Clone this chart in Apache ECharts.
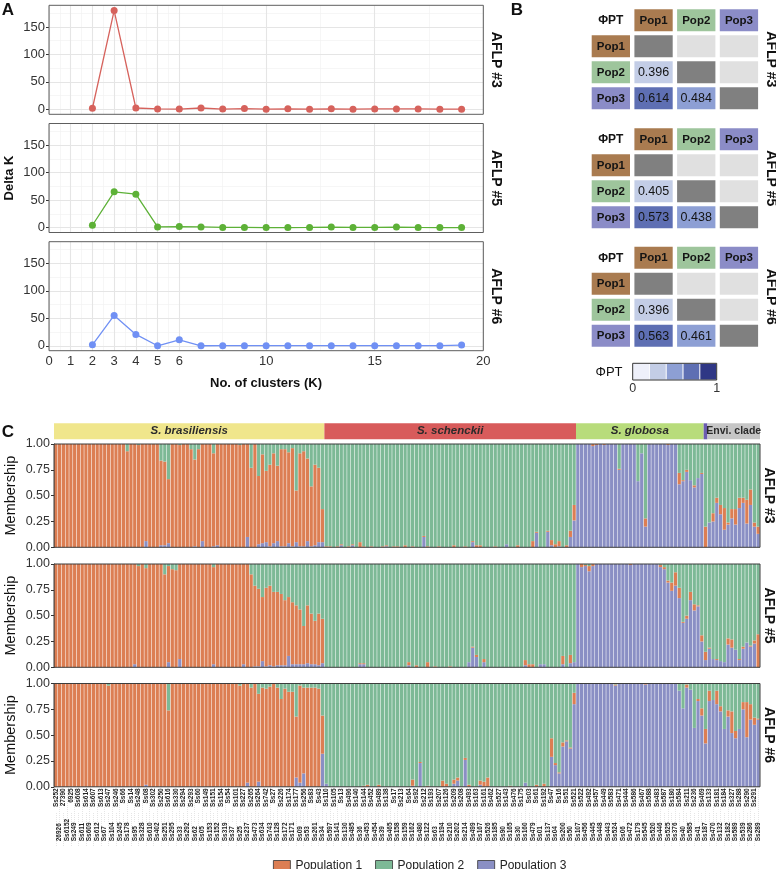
<!DOCTYPE html>
<html><head><meta charset="utf-8">
<script src="https://cdn.jsdelivr.net/npm/echarts@6/dist/echarts.min.js"></script>
<style>html,body{margin:0;padding:0;background:#fff}#c{width:776px;height:869px}</style>
</head><body><div id="c"></div>
<script>
// ---------------- DATA ----------------
const K = [2,3,4,5,6,7,8,9,10,11,12,13,14,15,16,17,18,19];
const deltaK_AFLP3 = [2,180,2.5,0.8,0.5,2.5,0.5,1.5,0.3,1,0.3,1,0.3,0.8,0.7,0.8,0.3,0.3];
const deltaK_AFLP5 = [4.2,65,60.7,1.2,1.8,1.2,0.2,0.2,0,0,0.3,0.8,0.3,0.3,0.8,0.2,0,0];
const deltaK_AFLP6 = [1.8,55.3,20.6,0,10.9,0,0.2,0.2,0.1,0.1,0.1,0.1,0.1,0.1,0.1,0.1,0.1,1.2];
const xMajorBreaks = [0,1,2,3,4,5,6,10,15,20];
const xMinorBreaks = [0.5,1.5,2.5,3.5,4.5,5.5,8,12.5,17.5];
const yMajorBreaks = [0,50,100,150];
const yMinorBreaks = [25,75,125,175];
const aflpNames = ['AFLP #3','AFLP #5','AFLP #6'];

const popLabels = ['Pop1','Pop2','Pop3'];
// lower triangle: [Pop2-Pop1, Pop3-Pop1, Pop3-Pop2]
const phiPT_AFLP3 = [0.396, 0.614, 0.484];
const phiPT_AFLP5 = [0.405, 0.573, 0.438];
const phiPT_AFLP6 = [0.396, 0.563, 0.461];
const phiLegendBins = [0.1, 0.3, 0.5, 0.7, 0.9];

const speciesNames = ['S. brasiliensis','S. schenckii','S. globosa','','Envi. clade'];
const speciesCounts = [72, 67, 34, 1, 14];

const labelsTop = ['Ss252','27390','6925','Ss608','Ss614','Ss607','Ss613','Ss247','Ss246','Ss66','Ss14','Ss248','Ss08','Ss302','Ss250','Ss616','Ss330','Ss294','Ss293','Ss60','Ss149','Ss151','Ss154','Ss54','Ss101','Ss227','Ss265','Ss264','Ss742','Ss27','Ss226','Ss174','Ss177','Ss256','Ss83','Ss43','Ss110','Ss105','Ss13','Ss496','Ss140','Ss144','Ss452','Ss489','Ss138','Ss17','Ss213','Ss64','Ss92','Ss212','Ss193','Ss207','Ss126','Ss209','Ss208','Ss493','Ss163','Ss161','Ss462','Ss527','Ss143','Ss476','Ss175','Ss03','Ss61','Ss192','Ss47','Ss16','Ss51','Ss521','Ss522','Ss492','Ss457','Ss449','Ss583','Ss471','Ss444','Ss586','Ss467','Ss588','Ss483','Ss587','Ss180','Ss584','Ss211','Ss236','Ss469','Ss133','Ss181','Ss184','Ss327','Ss288','Ss290','Ss291'];
const labelsBottom = ['26926','Ss6152','Ss249','Ss611','Ss609','Ss612','Ss67','Ss104','Ss245','Ss178','Ss95','Ss328','Ss610','Ss402','Ss251','Ss295','Ss33','Ss292','Ss62','Ss05','Ss153','Ss152','Ss319','Ss37','Ss25','Ss237','Ss473','Ss634','Ss743','Ss128','Ss172','Ss171','Ss09','Ss53','Ss261','Ss34','Ss597','Ss141','Ss130','Ss485','Ss36','Ss453','Ss454','Ss39','Ss465','Ss158','Ss159','Ss162','Ss480','Ss122','Ss63','Ss194','Ss210','Ss202','Ss214','Ss499','Ss167','Ss526','Ss185','Ss90','Ss165','Ss30','Ss160','Ss479','Ss01','Ss137','Ss04','Ss200','Ss50','Ss107','Ss456','Ss445','Ss448','Ss443','Ss524','Ss06','Ss472','Ss179','Ss545','Ss520','Ss446','Ss525','Ss376','Ss40','Ss585','Ss41','Ss187','Ss470','Ss132','Ss182','Ss589','Ss539','Ss286','Ss289'];

// AFLP #3 membership
const m3_pop1 = [1,1,1,1,1,1,1,1,1,1, 1,1,1,1,1,1,1,1,1,.93, 1,1,.99,1,.94,1,1,1,.82,.81, .62,1,1,.99,1,1,.95,.84,.95,.94, 1,1,.90,.98,1,1,1,1,1,.99, 1,.90,.77,1,.66,.86,.69,.79,.87,.73, .94,.94,.88,.95,.50,.90,.92,.80,.58,.78, .72,.32,.01,.01,0,.01,.01,0,.01,.01, 0,.05,.01,0,.01,0,0,.01,.01,0, .01,.01,0,.02,0,.01,0,0,.01,.01, 0,0,.01,0,0,0,.02,0,0,.01, 0,.01,.02,.02,0,0,0,.01,0,0, 0,0,0,.02,0,0,0,.06,.01,0, 0,.01,.05,.03,.05,0,.02,.06,.15,0, 0,0,0,.02,.01,0,.01,0,0,0, .01,0,0,0,0,0,0,.08,0,0, 0,0,0,.01,0,0,.11,.01,.02,0, .02,0,.01,.20,0,.08,.05,.09,.21,.02, .09,.15,.10,.05,.23,.15,.04,.07];
const m3_pop2 = [0,0,0,0,0,0,0,0,0,0, 0,0,0,0,0,0,0,0,0,.07, 0,0,.01,0,0,0,0,0,.16,.17, .34,0,0,.01,0,0,.05,.15,.05,0, 0,0,.09,0,0,0,0,0,0,.01, 0,0,.23,0,.31,.10,.26,.20,.09,.21, .05,.05,.08,.04,.45,.09,.07,.14,.41,.20, .23,.63,.99,.99,1,.99,.97,1,.99,.97, 1,.95,.99,1,.99,1,1,.99,.98,1, .99,.99,1,.98,1,.99,1,1,.89,.99, 1,1,.99,1,1,1,.98,1,1,.99, 1,.94,.98,.98,1,1,1,.99,1,1, .97,1,1,.98,1,1,1,.94,.85,1, 1,.84,.93,.97,.94,1,.98,.84,.59,0, 0,0,0,0,0,0,0,0,0,0, .24,0,0,0,0,.36,.09,.72,0,0, 0,0,0,0,0,0,.28,.35,.25,.35, .40,.33,.28,.80,.76,.67,.52,.59,.62,.76, .63,.63,.52,.52,.54,.44,.76,.80];
const m3_pop3 = [0,0,0,0,0,0,0,0,0,0, 0,0,0,0,0,0,0,0,0,0, 0,0,0,0,.06,0,0,0,.02,.02, .04,0,0,0,0,0,0,.01,0,.06, 0,0,.01,.02,0,0,0,0,0,0, 0,.10,0,0,.03,.04,.05,.01,.04,.06, .01,.01,.04,.01,.05,.01,.01,.06,.01,.02, .05,.05,0,0,0,0,.02,0,0,.02, 0,0,0,0,0,0,0,0,.01,0, 0,0,0,0,0,0,0,0,.10,0, 0,0,0,0,0,0,0,0,0,0, 0,.05,0,0,0,0,0,0,0,0, .03,0,0,0,0,0,0,0,.14,0, 0,.15,.02,0,.01,0,0,.10,.26,1, 1,1,1,.98,.99,1,.99,1,1,1, .75,1,1,1,1,.64,.91,.20,1,1, 1,1,1,.99,1,1,.61,.64,.73,.65, .58,.67,.71,0,.24,.25,.43,.32,.17,.22, .28,.22,.38,.43,.23,.41,.20,.13];

// AFLP #5 membership
const m5_pop1 = [1,1,1,1,1,1,1,1,1,1, 1,1,1,1,1,1,1,1,1,1, 1,.97,.98,1,.96,1,1,1,1,.90, .93,.95,.94,.92,1,1,1,1,1,1, 1,1,.94,1,1,1,1,1,1,1, .97,1,.90,.78,.75,.62,.76,.77,.72,.71, .69,.63,.57,.60,.57,.53,.37,.56,.49,.42, .50,.43,0,0,0,0,0,0,0,0, 0,.01,.01,0,0,0,0,0,0,0, 0,0,0,0,.03,0,.02,0,0,.05, 0,.01,0,0,0,.01,0,0,0,0, 0,.01,.02,0,.03,0,0,0,0,0, 0,0,0,0,0,.05,.03,.03,0,0, 0,0,0,0,0,.08,0,.08,0,0, .03,.01,.05,.02,0,0,0,0,0,0, 0,0,0,.01,0,0,0,0,0,0, 0,.02,.02,.02,.08,.13,.10,.01,.03,.08, .06,.01,.06,.08,.01,0,.01,0,0,.06, .08,0,.01,.02,0,.01,.03,.32];
const m5_pop2 = [0,0,0,0,0,0,0,0,0,0, 0,0,0,0,0,0,0,0,0,0, 0,0,.02,0,.04,0,0,0,0,.10, .02,.05,.06,0,0,0,0,0,0,0, 0,0,.03,0,0,0,0,0,0,0, 0,0,.10,.21,.24,.32,.23,.21,.27,.27, .29,.35,.32,.37,.40,.44,.60,.40,.48,.55, .48,.53,1,1,1,1,1,1,1,1, 1,.96,.96,1,1,1,1,1,1,1, 1,1,1,1,.95,1,.98,1,1,.95, 1,.99,1,1,1,.99,1,1,1,1, .95,.80,.88,1,.92,1,1,1,1,1, 1,1,1,1,1,.93,.97,.97,1,.97, .97,1,1,1,1,.89,1,.88,.95,0, 0,.01,.02,0,0,0,0,0,0,0, 0,0,0,0,0,0,0,0,0,0, 0,.01,.03,.16,.18,.08,.23,.56,.50,.27, .39,.40,.69,.85,.81,.92,.92,.94,.95,.72, .73,.83,.92,.80,.76,.79,.74,.68];
const m5_pop3 = [0,0,0,0,0,0,0,0,0,0, 0,0,0,0,0,0,0,0,0,0, 0,.03,0,0,0,0,0,0,0,0, .05,0,0,.08,0,0,0,0,0,0, 0,0,.03,0,0,0,0,0,0,0, .03,0,0,.01,.01,.06,.01,.02,.01,.02, .02,.02,.11,.03,.03,.03,.03,.04,.03,.03, .02,.04,0,0,0,0,0,0,0,0, 0,.03,.03,0,0,0,0,0,0,0, 0,0,0,0,.02,0,0,0,0,0, 0,0,0,0,0,0,0,0,0,0, .05,.19,.10,0,.05,0,0,0,0,0, 0,0,0,0,0,.02,0,0,0,.03, .03,0,0,0,0,.03,0,.04,.05,1, .97,.98,.93,.98,1,1,1,1,1,1, 1,1,1,.99,1,1,1,1,1,1, 1,.97,.95,.82,.74,.79,.67,.43,.47,.65, .55,.59,.25,.07,.18,.08,.07,.06,.05,.22, .19,.17,.07,.18,.24,.20,.23,0];

// AFLP #6 membership
const m6_pop1 = [1,1,1,1,1,1,1,1,1,1, 1,1,1,1,.98,1,1,1,1,1, 1,1,1,1,.98,1,1,1,1,1, .74,1,1,1,1,1,1,1,1,1, 1,1,1,1,1,1,1,1,1,.98, 1,.96,.96,1,.85,.96,.95,.97,1,.96, .85,.95,.92,.92,.59,.94,.83,.96,.96,.96, .95,.37,0,0,0,0,0,0,0,0, 0,0,.01,.02,0,0,.02,0,0,0, 0,0,0,0,0,.06,0,.01,0,.01, 0,0,0,.06,.03,0,.04,.03,0,.02, .02,0,0,.04,.05,.09,0,0,0,0, 0,.01,0,0,0,0,0,0,.02,0, .03,0,.18,.02,.01,.04,.01,.01,.11,0, 0,0,0,0,0,0,0,0,0,.01, 0,0,0,0,0,0,0,.01,0,0, 0,0,0,0,0,0,0,0,.03,0, 0,.02,.07,.14,.10,0,.13,.05,0,.06, .21,.07,0,.07,.34,.15,.07,.01];
const m6_pop2 = [0,0,0,0,0,0,0,0,0,0, 0,0,0,0,.02,0,0,0,0,0, 0,0,0,0,0,0,0,0,0,0, .26,0,0,0,0,0,0,0,0,0, 0,0,0,0,0,0,0,0,0,.02, 0,0,.04,0,.10,.04,.05,.03,0,.04, .15,.05,.08,.08,.32,.02,.04,.04,.04,.04, .05,.31,.97,1,1,1,1,1,1,1, 1,1,.99,.98,1,1,.98,1,1,1, 1,1,1,1,1,.93,1,.76,1,.99, 1,1,1,.94,.97,1,.93,.91,1,.72, .98,1,1,.94,.95,.91,1,1,1,1, 1,.99,1,1,1,.96,1,1,.98,1, .97,1,.53,.77,.86,.57,.55,.62,.09,0, 0,0,0,0,0,0,0,0,0,.01, 0,0,0,0,0,0,0,0,0,0, 0,0,0,0,0,0,.07,.24,.01,.06, .43,.15,.24,.44,.07,.16,.07,.22,.44,.26, .27,.46,.44,.18,.18,.20,.33,.34];
const m6_pop3 = [0,0,0,0,0,0,0,0,0,0, 0,0,0,0,0,0,0,0,0,0, 0,0,0,0,.02,0,0,0,0,0, 0,0,0,0,0,0,0,0,0,0, 0,0,0,0,0,0,0,0,0,0, 0,.04,0,0,.05,0,0,0,0,0, 0,0,0,0,.09,.04,.13,0,0,0, 0,.32,.03,0,0,0,0,0,0,0, 0,0,0,0,0,0,0,0,0,0, 0,0,0,0,0,.01,0,.23,0,0, 0,0,0,0,0,0,.03,.06,0,.26, 0,0,0,.02,0,0,0,0,0,0, 0,0,0,0,0,.04,0,0,0,0, 0,0,.29,.21,.13,.39,.44,.37,.80,1, 1,1,1,1,1,1,1,1,1,.98, 1,1,1,1,1,1,1,.99,1,1, 1,1,1,1,1,1,.93,.76,.96,.94, .57,.83,.69,.42,.83,.84,.80,.73,.56,.68, .52,.47,.56,.75,.48,.65,.60,.65];

// ---------------- STYLE / LAYOUT ----------------
const FONT = '"Liberation Sans", Arial, Helvetica, sans-serif';
const dkColors = ['#d6625c', '#5db137', '#7090f4'];
const popColors = ['#a97b50', '#9ec59c', '#8b8cc7'];
const structColors = ['#dc7e53', '#7db996', '#8a8fc4'];
const speciesColors = ['#f0e68c', '#d85b5b', '#b8dc7b', '#6b5cb0', '#c6c6c6'];
const phiPalette = ['#eef0fa', '#c3cde6', '#8d9fd4', '#5e6fb3', '#2f3785'];
function phiColor(v){ if (v < 0.2) return phiPalette[0]; if (v < 0.42) return phiPalette[1]; if (v < 0.52) return phiPalette[2]; if (v < 0.8) return phiPalette[3]; return phiPalette[4]; }

const sampleIds = [];
for (let i = 0; i < labelsTop.length; i++){ sampleIds.push(labelsTop[i]); if (i < labelsBottom.length) sampleIds.push(labelsBottom[i]); }

const grids = [], xAxes = [], yAxes = [], series = [], graphics = [];
const baseGrid = {show:false, containLabel:false, outerBoundsMode:'none'};

// ---------- Panel A ----------
const aTops = [5.3, 123.5, 241.7];
const dkSets = [deltaK_AFLP3, deltaK_AFLP5, deltaK_AFLP6];
for (let p = 0; p < 3; p++){
  const gi = grids.length;
  grids.push(Object.assign({}, baseGrid, {left:49, top:aTops[p], width:434.3, height:109, show:true, borderColor:'#5e5e5e', borderWidth:1, backgroundColor:'rgba(0,0,0,0)', z:4}));
  xAxes.push({gridIndex:gi, type:'value', min:0, max:20, splitLine:{show:false}, axisLine:{show:false},
    axisTick:{show:p===2, customValues:xMajorBreaks, length:3, lineStyle:{color:'#333'}},
    axisLabel:{show:p===2, customValues:xMajorBreaks, fontSize:13, color:'#333', margin:4, fontFamily:FONT}});
  yAxes.push({gridIndex:gi, type:'value', min:-9, max:189.5, splitLine:{show:false}, axisLine:{show:false},
    axisTick:{show:true, customValues:yMajorBreaks, length:3, lineStyle:{color:'#333'}},
    axisLabel:{customValues:yMajorBreaks, fontSize:13, color:'#333', margin:4, fontFamily:FONT}});
  const gl = [];
  xMinorBreaks.forEach(v => gl.push({xAxis:v, lineStyle:{color:'#f2f2f2', width:0.7, type:'solid'}}));
  yMinorBreaks.forEach(v => gl.push({yAxis:v, lineStyle:{color:'#f2f2f2', width:0.7, type:'solid'}}));
  xMajorBreaks.forEach(v => gl.push({xAxis:v, lineStyle:{color:'#e5e5e5', width:1.1, type:'solid'}}));
  yMajorBreaks.forEach(v => gl.push({yAxis:v, lineStyle:{color:'#e5e5e5', width:1.1, type:'solid'}}));
  series.push({type:'line', name:'grid'+p, xAxisIndex:gi, yAxisIndex:gi, data:[], silent:true, z:1,
    markLine:{silent:true, symbol:['none','none'], z:1, animation:false, label:{show:false}, emphasis:{disabled:true}, data:gl}});
  series.push({type:'line', name:aflpNames[p]+' dK', xAxisIndex:gi, yAxisIndex:gi, z:3,
    data:K.map((k,i)=>[k, dkSets[p][i]]), symbol:'circle', symbolSize:7, showSymbol:true,
    lineStyle:{color:dkColors[p], width:1.3}, itemStyle:{color:dkColors[p]}, emphasis:{disabled:true}});
}

// ---------- Panel B ----------
const bTops = [7.3, 126.3, 244.7];
const phiSets = [phiPT_AFLP3, phiPT_AFLP5, phiPT_AFLP6];
function buildCells(vals){
  const cells = [{col:0,row:0,kind:'corner',text:'ΦPT'}];
  popLabels.forEach((n,i)=>{ cells.push({col:i+1,row:0,kind:'pop',text:n,pop:i}); cells.push({col:0,row:i+1,kind:'pop',text:n,pop:i}); });
  let k = 0;
  for (let r=0;r<3;r++) for (let c=0;c<3;c++){
    if (r===c) cells.push({col:c+1,row:r+1,kind:'diag'});
    else if (c>r) cells.push({col:c+1,row:r+1,kind:'upper'});
    else { cells.push({col:c+1,row:r+1,kind:'val',value:vals[k]}); k++; }
  }
  return cells;
}
for (let t = 0; t < 3; t++){
  const gi = grids.length;
  grids.push(Object.assign({}, baseGrid, {left:589.5, top:bTops[t], width:170.8, height:104}));
  xAxes.push({gridIndex:gi, type:'category', data:['a','b','c','d'], show:false});
  yAxes.push({gridIndex:gi, type:'category', data:['a','b','c','d'], inverse:true, show:false});
  const cells = buildCells(phiSets[t]);
  series.push({type:'custom', name:'phi'+t, xAxisIndex:gi, yAxisIndex:gi, silent:true,
    data:cells.map(c=>[c.col,c.row]),
    renderItem:(params, api)=>{
      const cell = cells[params.dataIndex];
      const ctr = api.coord([api.value(0), api.value(1)]);
      const sz = api.size([1,1]);
      const w = sz[0]-4.4, h = sz[1]-4;
      const x = ctr[0]-w/2, y = ctr[1]-h/2;
      let fill = null, text = '', font = '12.5px ' + FONT;
      if (cell.kind==='corner'){ text = cell.text; font = 'bold 12px ' + FONT; }
      else if (cell.kind==='pop'){ fill = popColors[cell.pop]; text = cell.text; font = 'bold 11.5px ' + FONT; }
      else if (cell.kind==='diag'){ fill = '#808080'; }
      else if (cell.kind==='upper'){ fill = '#e0e0e0'; }
      else { fill = phiColor(cell.value); text = cell.value.toFixed(3); }
      const ch = [];
      if (fill) ch.push({type:'rect', shape:{x:x,y:y,width:w,height:h}, style:{fill:fill}});
      if (text) ch.push({type:'text', x:ctr[0], y:ctr[1]+0.5, style:{text:text, fill:'#141414', font:font, align:'center', verticalAlign:'middle'}});
      return {type:'group', children:ch};
    }});
}
// PhiPT colour legend
{
  const gi = grids.length;
  grids.push(Object.assign({}, baseGrid, {left:632.7, top:363.3, width:84, height:16.7, show:true, borderColor:'#333', borderWidth:1, backgroundColor:'rgba(0,0,0,0)', z:6}));
  xAxes.push({gridIndex:gi, type:'value', min:0, max:1, splitLine:{show:false}, axisLine:{show:false}, axisTick:{show:false},
    axisLabel:{customValues:[0,1], fontSize:12.5, color:'#333', margin:2, fontFamily:FONT}});
  yAxes.push({gridIndex:gi, type:'category', data:['x'], show:false});
  series.push({type:'custom', name:'phiLegend', xAxisIndex:gi, yAxisIndex:gi, silent:true,
    data:phiLegendBins.map(v=>[v,0]),
    renderItem:(params, api)=>{
      const v = api.value(0);
      const a = api.coord([v-0.1, 0]), b = api.coord([v+0.1, 0]);
      const h = api.size([0,1])[1];
      return {type:'rect', shape:{x:a[0], y:a[1]-h/2, width:b[0]-a[0], height:h}, style:{fill:phiColor(v), stroke:'#fff', lineWidth:0.8}};
    }});
}

// ---------- Panel C ----------
const cLeft = 54, cRight = 16;
// species header
{
  const gi = grids.length;
  grids.push(Object.assign({}, baseGrid, {left:cLeft, right:cRight, top:423.3, height:16}));
  xAxes.push({gridIndex:gi, type:'value', min:0, max:speciesCounts.reduce((a,b)=>a+b,0), show:false});
  yAxes.push({gridIndex:gi, type:'category', data:['sp'], show:false});
  speciesNames.forEach((n,i)=>{
    series.push({type:'bar', name:'sp'+i, xAxisIndex:gi, yAxisIndex:gi, stack:'species', barWidth:'100%', silent:true,
      data:[speciesCounts[i]], itemStyle:{color:speciesColors[i]},
      label:{show:n!=='', position:'inside', formatter:n, color:'#2b2b2b', fontFamily:FONT, fontWeight:'bold',
        fontStyle: i<3 ? 'italic' : 'normal', fontSize: i<3 ? 11.5 : 10.5}});
  });
}
const cTops = [444, 564, 683.5];
const memberSets = [[m3_pop1,m3_pop2,m3_pop3],[m5_pop1,m5_pop2,m5_pop3],[m6_pop1,m6_pop2,m6_pop3]];
const DOTS = '·················';
for (let p = 0; p < 3; p++){
  const gi = grids.length;
  grids.push(Object.assign({}, baseGrid, {left:cLeft, right:cRight, top:cTops[p], height:103.3, show:true, borderColor:'#3c3c3c', borderWidth:1, backgroundColor:'rgba(0,0,0,0)', z:6}));
  const last = p===2;
  xAxes.push({gridIndex:gi, type:'category', data:sampleIds, axisLine:{show:false}, axisTick:{show:false}, splitLine:{show:false},
    axisLabel:{show:last, interval:0, rotate:90, margin:1.5, hideOverlap:false, fontFamily:FONT,
      formatter:(v,i)=> i%2===0 ? '{d|'+DOTS+'}{t|'+v+'}' : '{b|'+v+'}{d|'+DOTS+'}',
      rich:{
        t:{fontSize:6.5, fontWeight:'bold', color:'#222', width:24, align:'right', fontFamily:FONT},
        b:{fontSize:6.5, fontWeight:'bold', color:'#222', width:24, align:'left', fontFamily:FONT},
        d:{fontSize:6, color:'#b0b0b0', width:29, fontFamily:FONT}
      }}});
  yAxes.push({gridIndex:gi, type:'value', min:0, max:1, interval:0.25, splitLine:{show:false},
    axisLine:{show:true, lineStyle:{color:'#3c3c3c'}}, axisTick:{show:true, length:3, lineStyle:{color:'#333'}},
    axisLabel:{formatter:v=>v.toFixed(2), fontSize:12.5, color:'#333', margin:4, fontFamily:FONT}});
  const sets = memberSets[p];
  // stacking order bottom->top: Population 3, Population 1, Population 2
  [[2,'Population 3'],[0,'Population 1'],[1,'Population 2']].forEach(([k,name])=>{
    series.push({type:'bar', name:name, xAxisIndex:gi, yAxisIndex:gi, stack:'mem'+p, barCategoryGap:'14%',
      data:sets[k], itemStyle:{color:structColors[k]}, emphasis:{disabled:true}, silent:true});
  });
}

// ---------- text ----------
function txt(x,y,text,font,rot,align){
  return {type:'text', x:x, y:y, rotation:rot||0, z:100, style:{text:text, font:font, fill:'#111', align:align||'center', verticalAlign:'middle'}};
}
graphics.push(txt(8,10,'A','bold 17px '+FONT));
graphics.push(txt(517,10,'B','bold 17px '+FONT));
graphics.push(txt(8,432,'C','bold 17px '+FONT));
graphics.push(txt(9,178,'Delta K','bold 13px '+FONT,Math.PI/2));
graphics.push(txt(266,383,'No. of clusters (K)','bold 13px '+FONT));
aTops.forEach((t,i)=>graphics.push(txt(496,t+54.5,aflpNames[i],'bold 14px '+FONT,-Math.PI/2)));
bTops.forEach((t,i)=>graphics.push(txt(771,t+52,aflpNames[i],'bold 14px '+FONT,-Math.PI/2)));
cTops.forEach((t,i)=>{
  graphics.push(txt(769,t+51.6,aflpNames[i],'bold 14px '+FONT,-Math.PI/2));
  graphics.push(txt(11,t+51.6,'Membership','14.5px '+FONT,Math.PI/2));
});
graphics.push(txt(609,372,'ΦPT','13px '+FONT));

const option = {
  animation:false,
  backgroundColor:'#ffffff',
  textStyle:{fontFamily:FONT},
  grid:grids, xAxis:xAxes, yAxis:yAxes, series:series,
  graphic:{elements:graphics},
  legend:{data:['Population 1','Population 2','Population 3'], left:268, top:855, orient:'horizontal',
    itemWidth:17, itemHeight:11, itemGap:13, icon:'rect', selectedMode:false,
    itemStyle:{borderColor:'#333', borderWidth:0.8},
    textStyle:{fontSize:12, color:'#222', fontFamily:FONT}}
};
const chart = echarts.init(document.getElementById('c'));
chart.setOption(option);
</script></body></html>
